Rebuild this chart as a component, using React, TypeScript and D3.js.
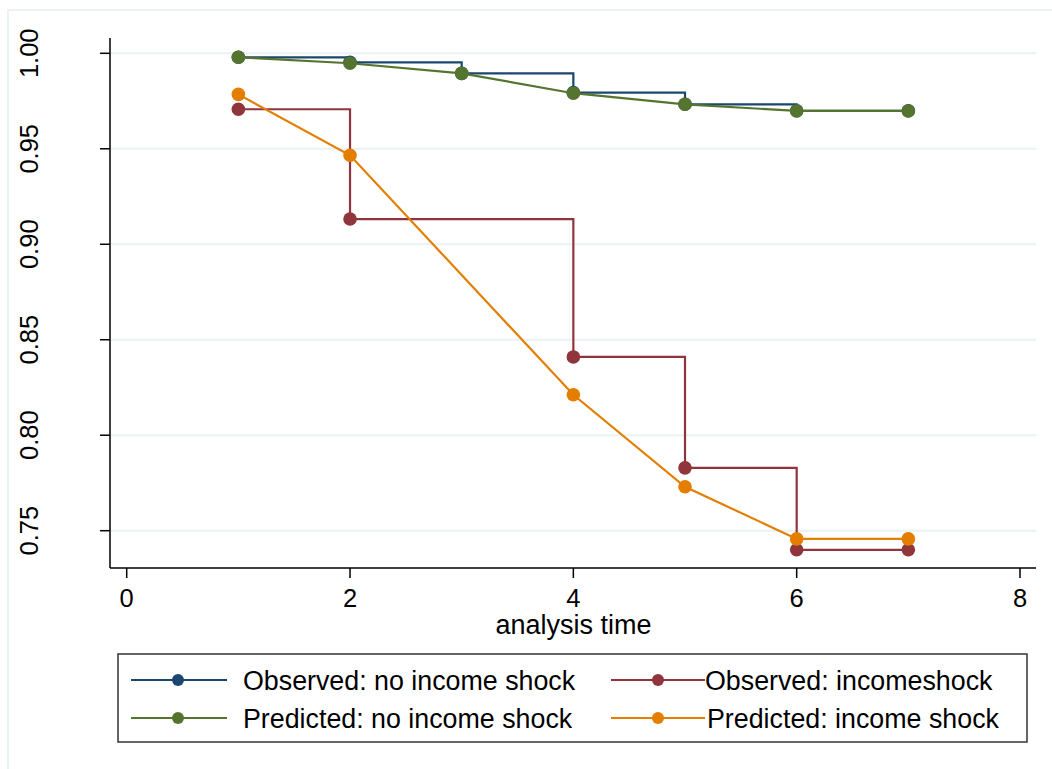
import React from "react";
import * as d3 from "d3";

const timeNoShock = [1, 2, 3, 4, 5, 6, 7];
const observedNoShock = [0.9979, 0.9953, 0.9895, 0.9794, 0.9733, 0.9699, 0.9699];
const predictedNoShock = [0.9979, 0.9948, 0.9895, 0.9791, 0.9733, 0.9698, 0.9698];

const timeShock = [1, 2, 4, 5, 6, 7];
const observedShock = [0.9707, 0.9132, 0.841, 0.7829, 0.74, 0.74];
const predictedShock = [0.9785, 0.9466, 0.8212, 0.773, 0.7457, 0.7457];

const yTicks = [0.75, 0.8, 0.85, 0.9, 0.95, 1.0];
const xTicks = [0, 2, 4, 6, 8];
const xTitle = "analysis time";

const legendLabels = [
  "Observed: no income shock",
  "Observed: incomeshock",
  "Predicted: no income shock",
  "Predicted: income shock",
];
const colors = ["#1a476f", "#90353b", "#55752f", "#e37e00"];

const FONT = "'Liberation Sans', Arial, sans-serif";

export default function App() {
  const x = d3.scaleLinear().domain([0, 8]).range([126.7, 1020]);
  const y = d3.scaleLinear().domain([0.75, 1.0]).range([530.7, 53.3]);

  const plotLeft = 110;
  const plotRight = 1036;
  const plotTop = 38;
  const plotBottom = 568;

  const series = [
    { t: timeNoShock, v: observedNoShock, step: true },
    { t: timeShock, v: observedShock, step: true },
    { t: timeNoShock, v: predictedNoShock, step: false },
    { t: timeShock, v: predictedShock, step: false },
  ];

  const makeLine = (step: boolean) =>
    d3
      .line<[number, number]>()
      .x((d) => x(d[0]))
      .y((d) => y(d[1]))
      .curve(step ? d3.curveStepAfter : d3.curveLinear);

  const legendCols = [
    { lx1: 131, lx2: 227, mx: 178, tx: 243 },
    { lx1: 611, lx2: 705, mx: 658, tx: 705 },
  ];
  const legendRows = [680, 718];

  return (
    <svg
      width={1052}
      height={769}
      style={{ position: "absolute", left: 0, top: 0, display: "block", background: "#fff" }}
      fontFamily={FONT}
    >
      <rect x={8} y={10} width={1100} height={800} fill="none" stroke="#eaf2f3" strokeWidth={2} />

      {/* gridlines */}
      {yTicks.map((t) => (
        <line
          key={"g" + t}
          x1={plotLeft}
          x2={plotRight}
          y1={y(t)}
          y2={y(t)}
          stroke="#eaf2f3"
          strokeWidth={2}
        />
      ))}

      {/* axes */}
      <line x1={plotLeft} x2={plotLeft} y1={plotTop} y2={plotBottom} stroke="#000" strokeWidth={1.5} />
      <line x1={plotLeft} x2={plotRight} y1={plotBottom} y2={plotBottom} stroke="#000" strokeWidth={1.5} />
      {yTicks.map((t) => (
        <g key={"y" + t}>
          <line x1={100} x2={plotLeft} y1={y(t)} y2={y(t)} stroke="#000" strokeWidth={1.5} />
          <text
            transform={`translate(38,${y(t)}) rotate(-90)`}
            textAnchor="middle"
            fontSize={25.5}
            fill="#000"
          >
            {t.toFixed(2)}
          </text>
        </g>
      ))}
      {xTicks.map((t) => (
        <g key={"x" + t}>
          <line x1={x(t)} x2={x(t)} y1={plotBottom} y2={578} stroke="#000" strokeWidth={1.5} />
          <text x={x(t)} y={607} textAnchor="middle" fontSize={25.5} fill="#000">
            {t}
          </text>
        </g>
      ))}
      <text x={(496 + 651) / 2} y={634} textAnchor="middle" fontSize={27} fill="#000">
        {xTitle}
      </text>

      {/* series */}
      {series.map((s, i) => {
        const pts: [number, number][] = s.t.map((t, j) => [t, s.v[j]]);
        return (
          <g key={"s" + i}>
            <path d={makeLine(s.step)(pts) || ""} fill="none" stroke={colors[i]} strokeWidth={2.2} />
            {pts.map((p, j) => (
              <circle key={j} cx={x(p[0])} cy={y(p[1])} r={6.8} fill={colors[i]} />
            ))}
          </g>
        );
      })}

      {/* legend */}
      <rect x={118} y={654} width={909} height={88} fill="#fff" stroke="#333" strokeWidth={1.5} />
      {legendLabels.map((lab, i) => {
        const col = legendCols[i % 2];
        const ry = legendRows[Math.floor(i / 2)];
        return (
          <g key={"l" + i}>
            <line x1={col.lx1} x2={col.lx2} y1={ry} y2={ry} stroke={colors[i]} strokeWidth={2.2} />
            <circle cx={col.mx} cy={ry} r={6} fill={colors[i]} />
            <text x={col.tx + (i === 3 ? 2 : 0)} y={ry + 9.5} fontSize={26.8} fill="#000">
              {lab}
            </text>
          </g>
        );
      })}
    </svg>
  );
}
